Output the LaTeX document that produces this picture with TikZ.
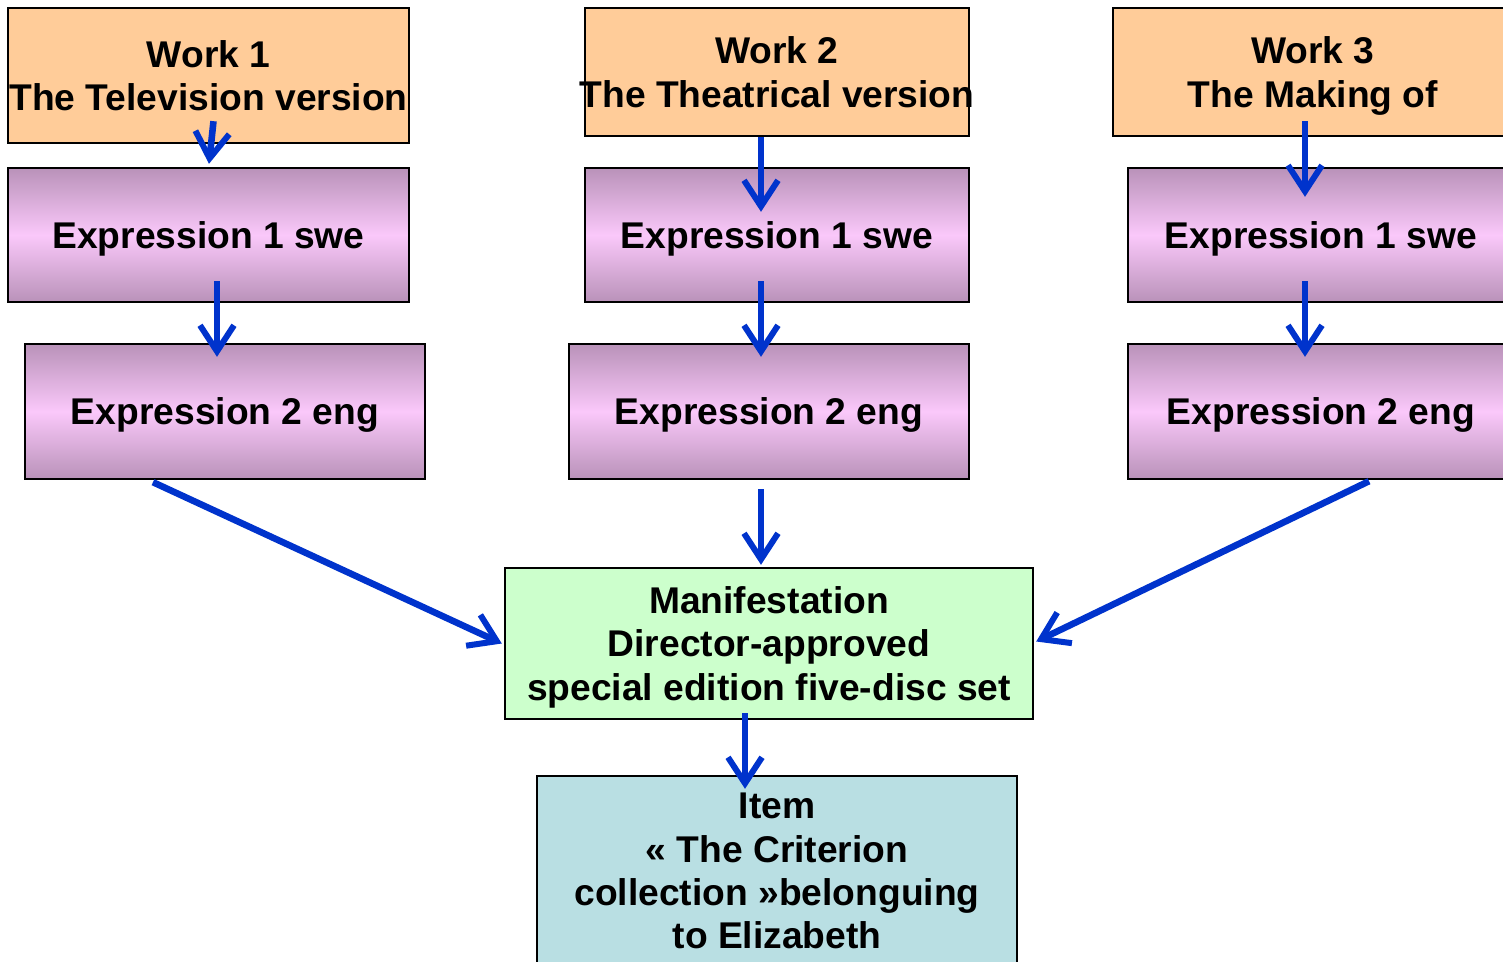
\documentclass[tikz,border=0pt]{standalone}
\usepackage{fontspec}
\setmainfont{Liberation Sans}
\usepackage{tikz}
\usetikzlibrary{arrows.meta, positioning, calc, shapes}

\definecolor{workcol}{RGB}{255,204,153}
\definecolor{exprdark}{RGB}{185,146,185}
\definecolor{exprlight}{RGB}{250,200,250}
\definecolor{maniccol}{RGB}{204,255,204}
\definecolor{itemcol}{RGB}{185,223,227}
\definecolor{arrcol}{RGB}{0,51,204}

\tikzset{
  box/.style={draw=black, line width=1.2pt, rectangle, align=center,
    inner sep=0pt, text depth=0pt, font=\fontsize{18.6}{21.7}\selectfont\bfseries},
  work/.style={box, fill=workcol},
  expr/.style={box, top color=exprdark, bottom color=exprdark,
    middle color=exprlight, minimum height=67pt},
  manif/.style={box, fill=maniccol},
  item/.style={box, fill=itemcol},
  rel/.style={draw=arrcol, line width=3.3pt,
    -{Straight Barb[length=13pt,width=17pt,line width=3pt]}}
}

\begin{document}
\begin{tikzpicture}[x=0.5pt,y=-0.5pt]
\useasboundingbox (0,0) rectangle (1503,962);

% works
\node[work, minimum width=200.5pt, minimum height=67.5pt] (W1) at (208.5,75.5)
  {Work 1\\The Television version};
\node[work, minimum width=192pt, minimum height=64pt, inner xsep=-4pt] (W2) at (777,72)
  {Work 2\\The Theatrical version};
\node[work, minimum width=200pt, minimum height=64pt] (W3) at (1313,72)
  {Work 3\\The Making of};

% expressions
\node[expr, minimum width=200.5pt] (E1a) at (208.5,235) {Expression 1 swe};
\node[expr, minimum width=192pt] (E1b) at (777,235) {Expression 1 swe};
\node[expr, minimum width=193pt] (E1c) at (1321,235) {Expression 1 swe};

\node[expr, minimum width=200pt, minimum height=67.5pt] (E2a) at (225,411.5) {Expression 2 eng};
\node[expr, minimum width=200pt, minimum height=67.5pt] (E2b) at (769,411.5) {Expression 2 eng};
\node[expr, minimum width=193pt, minimum height=67.5pt] (E2c) at (1321,411.5) {Expression 2 eng};

% manifestation and item
\node[manif, minimum width=264pt, minimum height=75.5pt] (M) at (769,643.5)
  {Manifestation\\Director-approved\\special edition five-disc set};
\node[item, minimum width=240pt, minimum height=95pt] (I) at (777,871)
  {Item\\\guillemotleft{} The Criterion\\collection \guillemotright belonguing\\to Elizabeth};

% relations
\draw[rel] ($(W1.south)+(5,-23)$) -- ($(E1a.north)+(0.5,-3)$);
\draw[rel] ($(W2.south)+(-16,0)$) -- ($(E1b.north)+(-16,45)$);
\draw[rel] ($(W3.south)+(-8,-16)$) -- ($(E1c.north)+(-16,30)$);

\draw[rel] ($(E1a.south)+(8.5,-22)$) -- ($(E2a.north)+(-8,14)$);
\draw[rel] ($(E1b.south)+(-16,-22)$) -- ($(E2b.north)+(-8,14)$);
\draw[rel] ($(E1c.south)+(-16,-22)$) -- ($(E2c.north)+(-16,14)$);

\draw[rel] ($(E2a.south)+(-72,2)$) -- ($(M.west)+(-2,0)$);
\draw[rel] ($(E2b.south)+(-8,9)$) -- ($(M.north)+(-8,-2)$);
\draw[rel] ($(E2c.south)+(48,1)$) -- ($(M.east)+(2,-2)$);

\draw[rel] ($(M.south)+(-24,-7)$) -- ($(I.north)+(-32,14)$);

\end{tikzpicture}
\end{document}
